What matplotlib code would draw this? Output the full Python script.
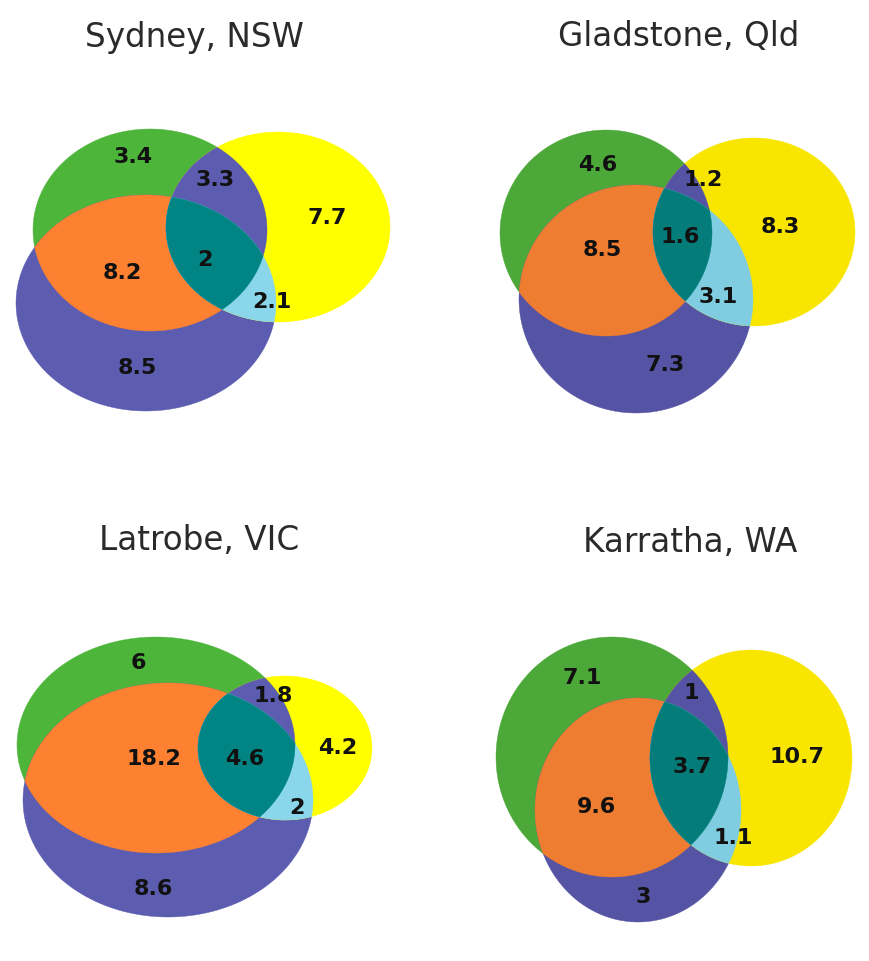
import numpy as np
import matplotlib.pyplot as plt
from matplotlib.patches import Polygon

# titres des 4 panneaux
titles = ["Sydney, NSW", "Gladstone, Qld", "Latrobe, VIC", "Karratha, WA"]

# valeurs par region, dans l'ordre :
# vert seul, vert+jaune, jaune seul, les trois, vert+violet, violet+jaune, violet seul
sydney = [3.4, 3.3, 7.7, 2, 8.2, 2.1, 8.5]
gladstone = [4.6, 1.2, 8.3, 1.6, 8.5, 3.1, 7.3]
latrobe = [6, 1.8, 4.2, 4.6, 18.2, 2, 8.6]
karratha = [7.1, 1, 10.7, 3.7, 9.6, 1.1, 3]
values = [sydney, gladstone, latrobe, karratha]

# --- mise en page (pixels de la figure) ---
# ellipses (cx, cy, rx, ry) : vert, violet, jaune
ellipses = [
    [(150, 230, 117, 101), (146, 303, 130, 108), (278, 227, 112, 95)],
    [(606, 233, 106, 103), (636, 299, 117, 114), (754, 232, 101, 94)],
    [(156, 745, 139, 108), (168, 800, 145, 117), (285, 748, 87, 72)],
    [(612, 757, 116, 120), (638, 810, 103, 112), (751, 758, 101, 108)],
]
title_pos = [(194, 37), (679, 37), (199, 541), (690, 543)]
label_pos = [
    [(133, 157), (215, 180), (327, 218), (205, 260), (122, 273), (272, 302), (137, 368)],
    [(598, 165), (703, 180), (780, 227), (680, 237), (602, 250), (718, 297), (665, 365)],
    [(138, 663), (273, 696), (338, 748), (245, 759), (154, 759), (297, 808), (153, 889)],
    [(582, 678), (691, 693), (797, 757), (692, 767), (597, 807), (733, 838), (643, 897)],
]

# couleurs : deux variantes (jaune vif / jaune plus sombre)
bright = dict(green='#4db53a', purple='#5c5cb0', yellow='#ffff00', orange='#fd8130',
              teal='#008484', light='#8ad7ec')
muted = dict(green='#4ca838', purple='#5553a3', yellow='#f9e600', orange='#ef7d31',
             teal='#047d7a', light='#80cde2')
palettes = [bright, muted, bright, muted]


def ellipse_pts(cx, cy, rx, ry, n=360):
    t = np.linspace(0, 2 * np.pi, n, endpoint=False)
    return list(zip(cx + rx * np.cos(t), cy + ry * np.sin(t)))


# Sutherland-Hodgman : decoupe un polygone par un polygone convexe
def clip(subject, clipper):
    out = subject
    n = len(clipper)
    for i in range(n):
        a, b = clipper[i], clipper[(i + 1) % n]
        inp, out = out, []
        if not inp:
            break

        def side(p):
            return (b[0] - a[0]) * (p[1] - a[1]) - (b[1] - a[1]) * (p[0] - a[0])

        for j in range(len(inp)):
            p, q = inp[j - 1], inp[j]
            sp, sq = side(p), side(q)
            if sq >= 0:
                if sp < 0:
                    t = sp / (sp - sq)
                    out.append((p[0] + t * (q[0] - p[0]), p[1] + t * (q[1] - p[1])))
                out.append(q)
            elif sp >= 0:
                t = sp / (sp - sq)
                out.append((p[0] + t * (q[0] - p[0]), p[1] + t * (q[1] - p[1])))
    return out


fig = plt.figure(figsize=(8.7, 9.61), dpi=100)
ax = fig.add_axes([0, 0, 1, 1])
ax.set_xlim(0, 870)
ax.set_ylim(961, 0)
ax.axis('off')

for k in range(4):
    col = palettes[k]
    G, P, Y = [ellipse_pts(*e) for e in ellipses[k]]
    GP = clip(G, P)
    shapes = [
        (G, col['green']), (P, col['purple']), (Y, col['yellow']),
        (GP, col['orange']), (clip(G, Y), col['purple']),
        (clip(P, Y), col['light']), (clip(GP, Y), col['teal']),
    ]
    for pts, c in shapes:
        ax.add_patch(Polygon(pts, closed=True, facecolor=c, edgecolor=c, linewidth=0.3))

    ax.text(*title_pos[k], titles[k], ha='center', va='center', fontsize=23.5,
            color='#2a2a2a')
    for v, (x, y) in zip(values[k], label_pos[k]):
        ax.text(x, y, f"{v:g}", ha='center', va='center', fontsize=16,
                fontweight='bold', color='#111111')

fig.savefig('out.png', dpi=100)
